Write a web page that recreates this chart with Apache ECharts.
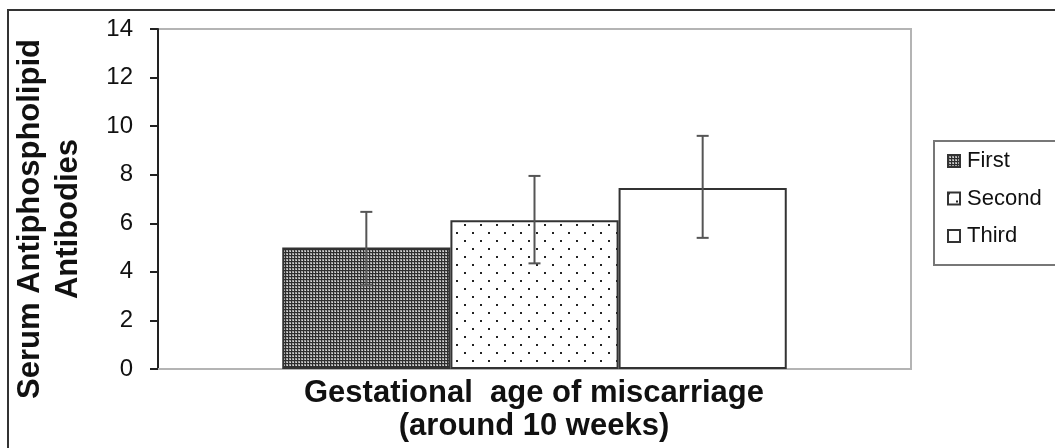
<!DOCTYPE html>
<html>
<head>
<meta charset="utf-8">
<script src="https://cdn.jsdelivr.net/npm/echarts@6/dist/echarts.min.js"></script>
<style>
html,body{margin:0;padding:0;background:#fff;}
#chart{width:1055px;height:448px;}
</style>
</head>
<body>
<div id="chart"></div>
<script>
// ---- data ----
const categories = [''];
const seriesNames = ['First', 'Second', 'Third'];
const means = [5.0, 6.13, 7.45];
const errLow = [3.45, 4.35, 5.4];
const errHigh = [6.47, 7.95, 9.6];
const yMin = 0, yMax = 14, yInterval = 2;
const yTitle = 'Serum Antiphospholipid\nAntibodies';
const xTitle = 'Gestational  age of miscarriage\n(around 10 weeks)';

// ---- patterns ----
function densePattern() {
  const c = document.createElement('canvas');
  c.width = 3; c.height = 3;
  const g = c.getContext('2d');
  g.fillStyle = '#2e2e2e'; g.fillRect(0, 0, 3, 3);
  g.fillStyle = '#a0a0a0'; g.fillRect(1, 1, 2, 2);
  g.fillStyle = '#d8d8d8'; g.fillRect(2, 2, 1, 1);
  return c;
}
function dotPattern() {
  const c = document.createElement('canvas');
  c.width = 16; c.height = 16;
  const g = c.getContext('2d');
  g.fillStyle = '#ffffff'; g.fillRect(0, 0, 16, 16);
  g.fillStyle = '#222'; g.fillRect(0, 0, 2, 2); g.fillRect(8, 8, 2, 2);
  return c;
}
const fills = [
  { image: densePattern(), repeat: 'repeat' },
  { image: dotPattern(), repeat: 'repeat' },
  '#ffffff'
];

const FONT = '"Liberation Sans", Arial, sans-serif';
const CAT_GAP = 0.33;

const chart = echarts.init(document.getElementById('chart'), null, { renderer: 'canvas' });

const barSeries = seriesNames.map((name, i) => ({
  name: name,
  type: 'bar',
  data: [means[i]],
  barGap: '0%',
  barCategoryGap: (CAT_GAP * 100) + '%',
  itemStyle: { color: fills[i], borderColor: '#333', borderWidth: 2 },
  emphasis: { disabled: true },
  animation: false
}));

const errData = seriesNames.map((n, i) => [0, errLow[i], errHigh[i], i]);

const errSeries = {
  type: 'custom',
  name: 'err',
  data: errData,
  encode: { x: 0, y: [1, 2] },
  z: 10,
  animation: false,
  renderItem: function (params, api) {
    const idx = api.value(3);
    const lo = api.coord([api.value(0), api.value(1)]);
    const hi = api.coord([api.value(0), api.value(2)]);
    const catW = api.size([1, 0])[0];
    const barW = catW * (1 - CAT_GAP) / seriesNames.length;
    const x = lo[0] + (idx - (seriesNames.length - 1) / 2) * barW;
    const cap = 6;
    const st = { stroke: '#555', lineWidth: 2, fill: null };
    return {
      type: 'group',
      children: [
        { type: 'line', shape: { x1: x, y1: lo[1], x2: x, y2: hi[1] }, style: st },
        { type: 'line', shape: { x1: x - cap, y1: lo[1], x2: x + cap, y2: lo[1] }, style: st },
        { type: 'line', shape: { x1: x - cap, y1: hi[1], x2: x + cap, y2: hi[1] }, style: st }
      ]
    };
  }
};

chart.setOption({
  backgroundColor: '#ffffff',
  animation: false,
  grid: {
    left: 158, right: 144, top: 29, bottom: 79,
    show: true, borderColor: '#b4b4b4', borderWidth: 2, backgroundColor: '#ffffff'
  },
  legend: {
    data: seriesNames,
    orient: 'vertical',
    left: 934, top: 141,
    padding: [9, 40, 18, 13],
    itemWidth: 12, itemHeight: 12, itemGap: 15.5,
    icon: 'rect',
    borderColor: '#777', borderWidth: 2,
    textStyle: { fontFamily: FONT, fontSize: 22, color: '#111', lineHeight: 22, padding: [0, 0, 0, 2] },
    selectedMode: false
  },
  xAxis: {
    type: 'category',
    data: categories,
    axisLine: { show: true, lineStyle: { color: '#b4b4b4', width: 2 } },
    axisTick: { show: false },
    axisLabel: { show: false },
    splitLine: { show: false }
  },
  yAxis: {
    type: 'value',
    min: yMin, max: yMax, interval: yInterval,
    axisLine: { show: true, lineStyle: { color: '#222', width: 2 } },
    axisTick: { show: true, length: 8, lineStyle: { color: '#222', width: 2 } },
    axisLabel: { fontFamily: FONT, fontSize: 24, color: '#111', margin: 25 },
    splitLine: { show: false }
  },
  graphic: [
    {
      type: 'rect', silent: true, z: 100,
      shape: { x: 8, y: 10, width: 1200, height: 600 },
      style: { fill: null, stroke: '#333', lineWidth: 2 }
    },
    {
      type: 'text', silent: true,
      x: 49, y: 219, rotation: Math.PI / 2,
      style: {
        text: yTitle, fontFamily: FONT, fontSize: 31, fontWeight: 'bold',
        fill: '#111', align: 'center', verticalAlign: 'middle', lineHeight: 38
      }
    },
    {
      type: 'text', silent: true,
      x: 534, y: 410,
      style: {
        text: xTitle, fontFamily: FONT, fontSize: 31, fontWeight: 'bold',
        fill: '#111', align: 'center', verticalAlign: 'middle', lineHeight: 32.5
      }
    }
  ],
  series: barSeries.concat([errSeries])
});
</script>
</body>
</html>
